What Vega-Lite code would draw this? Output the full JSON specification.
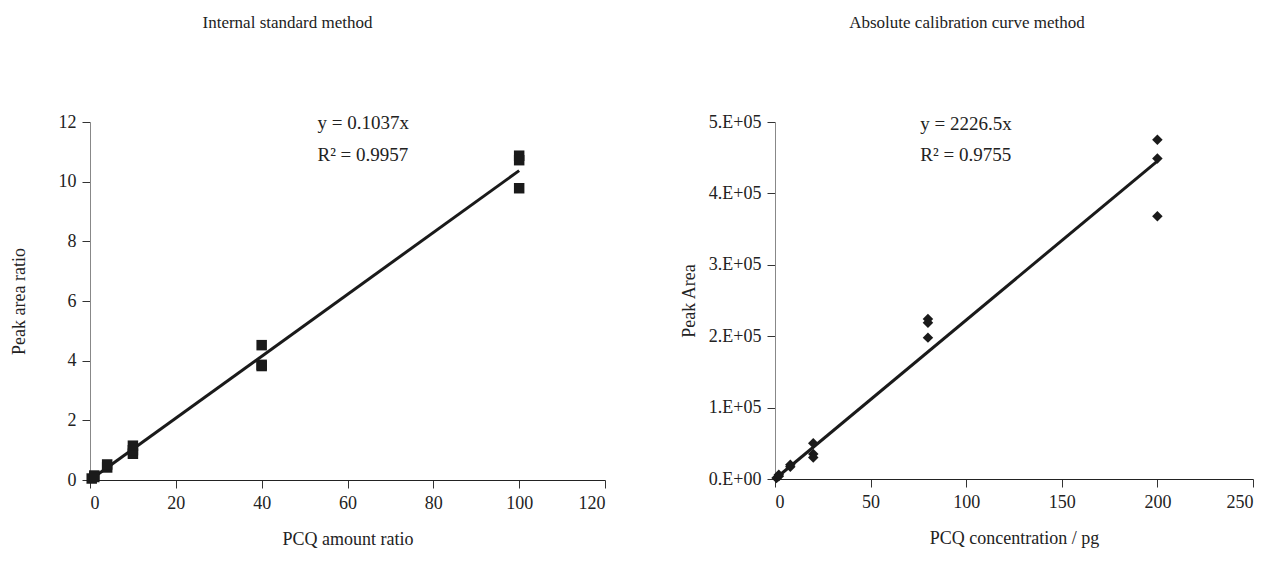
{
  "$schema": "https://vega.github.io/schema/vega-lite/v6.json",
  "background": "white",
  "padding": {"left": 10, "top": 14, "right": 5, "bottom": 5},
  "spacing": 74,
  "config": {
    "font": "Liberation Serif",
    "view": {"stroke": null},
    "axis": {
      "grid": false,
      "labelFont": "Liberation Serif",
      "titleFont": "Liberation Serif",
      "labelFontSize": 18,
      "titleFontSize": 18,
      "titleFontWeight": "normal",
      "labelColor": "#222",
      "titleColor": "#222",
      "tickColor": "#333",
      "domainColor": "#333",
      "tickSize": 8,
      "labelPadding": 6
    },
    "title": {"font": "Liberation Serif", "fontSize": 17, "fontWeight": "normal", "color": "#222"}
  },
  "datasets": {
    "ism": [
      {"x": 0.4, "y": 0.05}, {"x": 1, "y": 0.1}, {"x": 1, "y": 0.15},
      {"x": 4, "y": 0.42}, {"x": 4, "y": 0.52},
      {"x": 10, "y": 0.88}, {"x": 10, "y": 1.0}, {"x": 10, "y": 1.15},
      {"x": 40, "y": 4.52}, {"x": 40, "y": 3.82}, {"x": 40, "y": 3.86},
      {"x": 100, "y": 10.87}, {"x": 100, "y": 10.72}, {"x": 100, "y": 9.78}
    ],
    "ism_fit": [{"x": 0, "y": 0}, {"x": 100, "y": 10.37}],
    "ism_txt": [{"x": 53, "y": 11.95, "t": "y = 0.1037x"}, {"x": 53, "y": 10.9, "t": "R² = 0.9957"}],
    "acm": [
      {"x": 0.8, "y": 1500}, {"x": 2, "y": 4000}, {"x": 2, "y": 6000},
      {"x": 8, "y": 17000}, {"x": 8, "y": 20000},
      {"x": 20, "y": 50000}, {"x": 20, "y": 35000}, {"x": 20, "y": 30000},
      {"x": 80, "y": 224000}, {"x": 80, "y": 219000}, {"x": 80, "y": 198000},
      {"x": 200, "y": 475000}, {"x": 200, "y": 449000}, {"x": 200, "y": 368000}
    ],
    "acm_fit": [{"x": 0, "y": 0}, {"x": 200, "y": 445300}],
    "acm_txt": [{"x": 76, "y": 497000, "t": "y = 2226.5x"}, {"x": 76, "y": 454000, "t": "R² = 0.9755"}]
  },
  "hconcat": [
    {
      "width": 515,
      "height": 358,
      "title": {"text": "Internal standard method", "offset": 81, "dx": -60},
      "layer": [
        {
          "data": {"name": "ism_fit"},
          "mark": {"type": "line", "color": "#1a1a1a", "strokeWidth": 3},
          "encoding": {
            "x": {"field": "x", "type": "quantitative", "scale": {"domain": [0, 120], "nice": false},
                  "axis": {"values": [0, 20, 40, 60, 80, 100, 120], "title": "PCQ amount ratio", "titlePadding": 18, "domainColor": "#222"}},
            "y": {"field": "y", "type": "quantitative", "scale": {"domain": [0, 12], "nice": false},
                  "axis": {"values": [0, 2, 4, 6, 8, 10, 12], "title": "Peak area ratio", "titlePadding": 30, "domainColor": "#888"}}
          }
        },
        {
          "data": {"name": "ism"},
          "mark": {"type": "point", "shape": "square", "filled": true, "size": 110, "color": "#1a1a1a", "opacity": 1},
          "encoding": {
            "x": {"field": "x", "type": "quantitative"},
            "y": {"field": "y", "type": "quantitative"}
          }
        },
        {
          "data": {"name": "ism_txt"},
          "mark": {"type": "text", "align": "left", "baseline": "middle", "fontSize": 19, "font": "Liberation Serif", "color": "#222"},
          "encoding": {
            "x": {"field": "x", "type": "quantitative"},
            "y": {"field": "y", "type": "quantitative"},
            "text": {"field": "t"}
          }
        }
      ]
    },
    {
      "width": 478,
      "height": 357,
      "title": {"text": "Absolute calibration curve method", "offset": 81, "dx": -47},
      "layer": [
        {
          "data": {"name": "acm_fit"},
          "mark": {"type": "line", "color": "#1a1a1a", "strokeWidth": 3},
          "encoding": {
            "x": {"field": "x", "type": "quantitative", "scale": {"domain": [0, 250], "nice": false},
                  "axis": {"values": [0, 50, 100, 150, 200, 250], "title": "PCQ concentration / pg", "titlePadding": 18, "domainColor": "#222"}},
            "y": {"field": "y", "type": "quantitative", "scale": {"domain": [0, 500000], "nice": false},
                  "axis": {"values": [0, 100000, 200000, 300000, 400000, 500000], "title": "Peak Area", "titlePadding": 10, "domainColor": "#888",
                           "labelExpr": "floor(datum.value / 100000) + (datum.value == 0 ? '.E+00' : '.E+05')"}}
          }
        },
        {
          "data": {"name": "acm"},
          "mark": {"type": "point", "shape": "diamond", "filled": true, "size": 110, "color": "#1a1a1a", "opacity": 1},
          "encoding": {
            "x": {"field": "x", "type": "quantitative"},
            "y": {"field": "y", "type": "quantitative"}
          }
        },
        {
          "data": {"name": "acm_txt"},
          "mark": {"type": "text", "align": "left", "baseline": "middle", "fontSize": 19, "font": "Liberation Serif", "color": "#222"},
          "encoding": {
            "x": {"field": "x", "type": "quantitative"},
            "y": {"field": "y", "type": "quantitative"},
            "text": {"field": "t"}
          }
        }
      ]
    }
  ]
}
